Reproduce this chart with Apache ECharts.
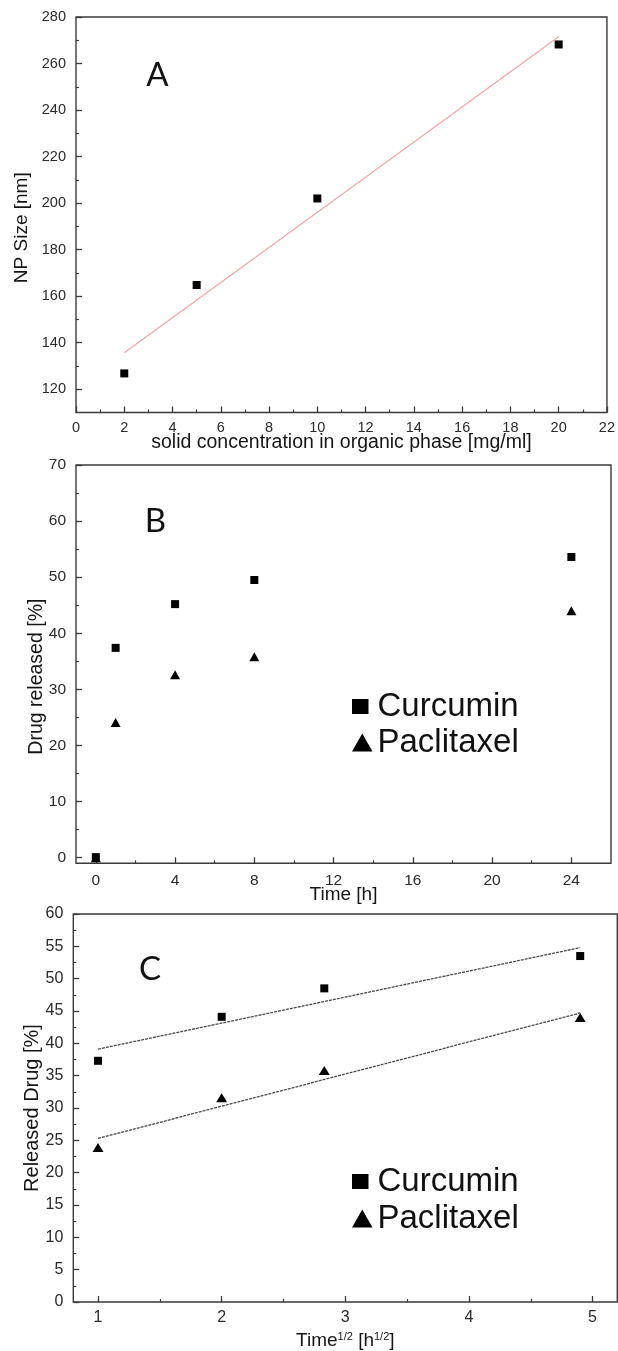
<!DOCTYPE html>
<html>
<head>
<meta charset="utf-8">
<script src="https://cdn.jsdelivr.net/npm/echarts@6/dist/echarts.min.js"></script>
<style>
html,body{margin:0;padding:0;background:#fff;}
#c{width:618px;height:1351px;}
</style>
</head>
<body>
<div id="c"></div>
<script>
// ---------- Panel A ----------
const aConc = [2, 5, 10, 20];
const aSize = [126.8, 164.8, 202.0, 268.2];
const aFitConc = [2, 20];
const aFitSize = [135.7, 271.5];
const aXTicks = [0, 2, 4, 6, 8, 10, 12, 14, 16, 18, 20, 22];
const aXMinor = [1, 3, 5, 7, 9, 11, 13, 15, 17, 19, 21];
const aYTicks = [120, 140, 160, 180, 200, 220, 240, 260, 280];
const aYMinor = [130, 150, 170, 190, 210, 230, 250, 270];

// ---------- Panel B ----------
const bTime = [0, 1, 4, 8, 24];
const bCurcumin = [0.1, 37.4, 45.2, 49.5, 53.6];
const bPaclitaxel = [0, 24.1, 32.6, 35.8, 44.0];
const bXTicks = [0, 4, 8, 12, 16, 20, 24];
const bXMinor = [2, 6, 10, 14, 18, 22];
const bYTicks = [0, 10, 20, 30, 40, 50, 60, 70];
const bYMinor = [5, 15, 25, 35, 45, 55, 65];

// ---------- Panel C ----------
const cRootTime = [1, 2, 2.83, 4.9];
const cCurcumin = [37.3, 44.1, 48.5, 53.5];
const cPaclitaxel = [23.9, 31.6, 35.8, 44.0];
const cFitRoot = [1, 4.9];
const cCurcuminFit = [39.1, 54.8];
const cPaclitaxelFit = [25.3, 44.7];
const cXTicks = [1, 2, 3, 4, 5];
const cXMinor = [1.5, 2.5, 3.5, 4.5];
const cYTicks = [0, 5, 10, 15, 20, 25, 30, 35, 40, 45, 50, 55, 60];
const cYMinor = [2.5, 7.5, 12.5, 17.5, 22.5, 27.5, 32.5, 37.5, 42.5, 47.5, 52.5, 57.5];

const FONT = '"Liberation Sans", Arial, sans-serif';
const FRAME = '#3a3a3a';
const LABEL = '#2a2a2a';
const TITLE = '#151515';

function pairs(xs, ys) { return xs.map((x, i) => [x, ys[i]]); }

function axisPair(kind, gridIndex, min, max, majors, minors, o) {
  const pos = kind === 'x' ? 'bottom' : 'left';
  const main = {
    type: 'value', gridIndex, min, max, position: pos,
    axisLine: { show: false, onZero: false },
    splitLine: { show: false },
    axisTick: { show: true, inside: true, length: 6, customValues: majors,
      lineStyle: { color: FRAME, width: 1.3 } },
    axisLabel: { show: true, customValues: majors, margin: o.margin,
      fontSize: o.fs, color: LABEL, fontFamily: FONT },
    name: o.name, nameLocation: 'middle', nameGap: o.gap, nameMoveOverlap: false,
    nameTextStyle: Object.assign({ fontSize: o.nfs, fontFamily: FONT, color: TITLE }, o.nts || {})
  };
  const minor = {
    type: 'value', gridIndex, min, max, position: pos,
    axisLine: { show: false, onZero: false },
    splitLine: { show: false },
    axisLabel: { show: false },
    axisTick: { show: true, inside: true, length: 3, customValues: minors,
      lineStyle: { color: FRAME, width: 1.2 } }
  };
  return [main, minor];
}

const gridBase = { show: true, borderColor: FRAME, borderWidth: 1.4, backgroundColor: 'transparent' };

const xAxes = [].concat(
  axisPair('x', 0, 0, 22, aXTicks, aXMinor,
    { margin: 8, fs: 14.5, name: 'solid concentration in organic phase [mg/ml]', gap: 20, nfs: 19.5 }),
  axisPair('x', 1, -1, 26, bXTicks, bXMinor,
    { margin: 9, fs: 15.5, name: 'Time [h]', gap: 22, nfs: 19 }),
  axisPair('x', 2, 0.8, 5.2, cXTicks, cXMinor,
    { margin: 8, fs: 16, name: '{t|Time}{s|1/2}{t| [h}{s|1/2}{t|]}', gap: 29, nfs: 19,
      nts: { rich: {
        t: { fontSize: 19, fontFamily: FONT, color: TITLE },
        s: { fontSize: 11, fontFamily: FONT, color: TITLE, verticalAlign: 'top' }
      } } })
);
const yAxes = [].concat(
  axisPair('y', 0, 110, 280, aYTicks, aYMinor,
    { margin: 10, fs: 14.5, name: 'NP Size [nm]', gap: 45, nfs: 19, nts: { padding: [0, 26, 0, 0] } }),
  axisPair('y', 1, -1, 70, bYTicks, bYMinor,
    { margin: 10, fs: 15.5, name: 'Drug released [%]', gap: 29, nfs: 19.5, nts: { padding: [0, 25, 0, 0] } }),
  axisPair('y', 2, 0, 60, cYTicks, cYMinor,
    { margin: 10, fs: 16, name: 'Released Drug [%]', gap: 31, nfs: 20 })
);

const sqIcon = 'path://M0,0M20.5,18M0,1.5L16.5,1.5L16.5,16.5L0,16.5Z';
const triIcon = 'path://M10.25,0L20.5,18L0,18Z';

function legendAt(top, gap) {
  return {
    left: 352, top: top, orient: 'vertical', padding: 0,
    itemWidth: 20.5, itemHeight: 18, itemGap: gap, selectedMode: false,
    data: [{ name: 'Curcumin', icon: sqIcon }, { name: 'Paclitaxel', icon: triIcon }],
    itemStyle: { color: '#000', opacity: 1 },
    textStyle: { fontSize: 33, fontFamily: FONT, color: '#111' }
  };
}

const dot = { color: '#000', opacity: 1 };

const option = {
  backgroundColor: '#fff',
  animation: false,
  grid: [
    Object.assign({ left: 76, top: 17, width: 532, height: 395.5 }, gridBase),
    Object.assign({ left: 76, top: 465, width: 535, height: 398.3 }, gridBase),
    Object.assign({ left: 73.3, top: 914, width: 544, height: 388.3 }, gridBase)
  ],
  xAxis: xAxes,
  yAxis: yAxes,
  legend: [legendAt(690, 3), legendAt(1165, 4)],
  graphic: [
    { type: 'text', x: 157.5, y: 75.5, style: { text: 'A', fontSize: 33, fontFamily: 'Lato, "Open Sans", sans-serif', fill: '#111', align: 'center', verticalAlign: 'middle' } },
    { type: 'text', x: 155.5, y: 521, style: { text: 'B', fontSize: 33, fontFamily: 'Lato, "Open Sans", sans-serif', fill: '#111', align: 'center', verticalAlign: 'middle' } },
    { type: 'text', x: 150, y: 969, style: { text: 'C', fontSize: 33, fontFamily: 'Lato, "Open Sans", sans-serif', fill: '#111', align: 'center', verticalAlign: 'middle' } }
  ],
  series: [
    { name: 'fitA', type: 'line', xAxisIndex: 0, yAxisIndex: 0, data: pairs(aFitConc, aFitSize),
      symbol: 'none', lineStyle: { color: '#f2a3a3', width: 1.1 }, z: 2 },
    { name: 'NP', type: 'scatter', xAxisIndex: 0, yAxisIndex: 0, data: pairs(aConc, aSize),
      symbol: 'rect', symbolSize: 8, itemStyle: dot, z: 3 },

    { name: 'Curcumin', type: 'scatter', xAxisIndex: 2, yAxisIndex: 2, data: pairs(bTime, bCurcumin),
      symbol: 'rect', symbolSize: 8, itemStyle: dot, z: 3 },
    { name: 'Paclitaxel', type: 'scatter', xAxisIndex: 2, yAxisIndex: 2, data: pairs(bTime, bPaclitaxel),
      symbol: 'triangle', symbolSize: [10, 9], itemStyle: dot, z: 3 },

    { name: 'fitCur', type: 'line', xAxisIndex: 4, yAxisIndex: 4, data: pairs(cFitRoot, cCurcuminFit),
      symbol: 'none', lineStyle: { color: '#4a4a4a', width: 1.3, type: [3, 1] }, z: 2 },
    { name: 'fitPac', type: 'line', xAxisIndex: 4, yAxisIndex: 4, data: pairs(cFitRoot, cPaclitaxelFit),
      symbol: 'none', lineStyle: { color: '#4a4a4a', width: 1.3, type: [3, 1] }, z: 2 },
    { name: 'Curcumin', type: 'scatter', xAxisIndex: 4, yAxisIndex: 4, data: pairs(cRootTime, cCurcumin),
      symbol: 'rect', symbolSize: 8, itemStyle: dot, z: 3 },
    { name: 'Paclitaxel', type: 'scatter', xAxisIndex: 4, yAxisIndex: 4, data: pairs(cRootTime, cPaclitaxel),
      symbol: 'triangle', symbolSize: [11, 9], itemStyle: dot, z: 3 }
  ]
};

const chart = echarts.init(document.getElementById('c'), null, { renderer: 'canvas' });
chart.setOption(option);
</script>
</body>
</html>
